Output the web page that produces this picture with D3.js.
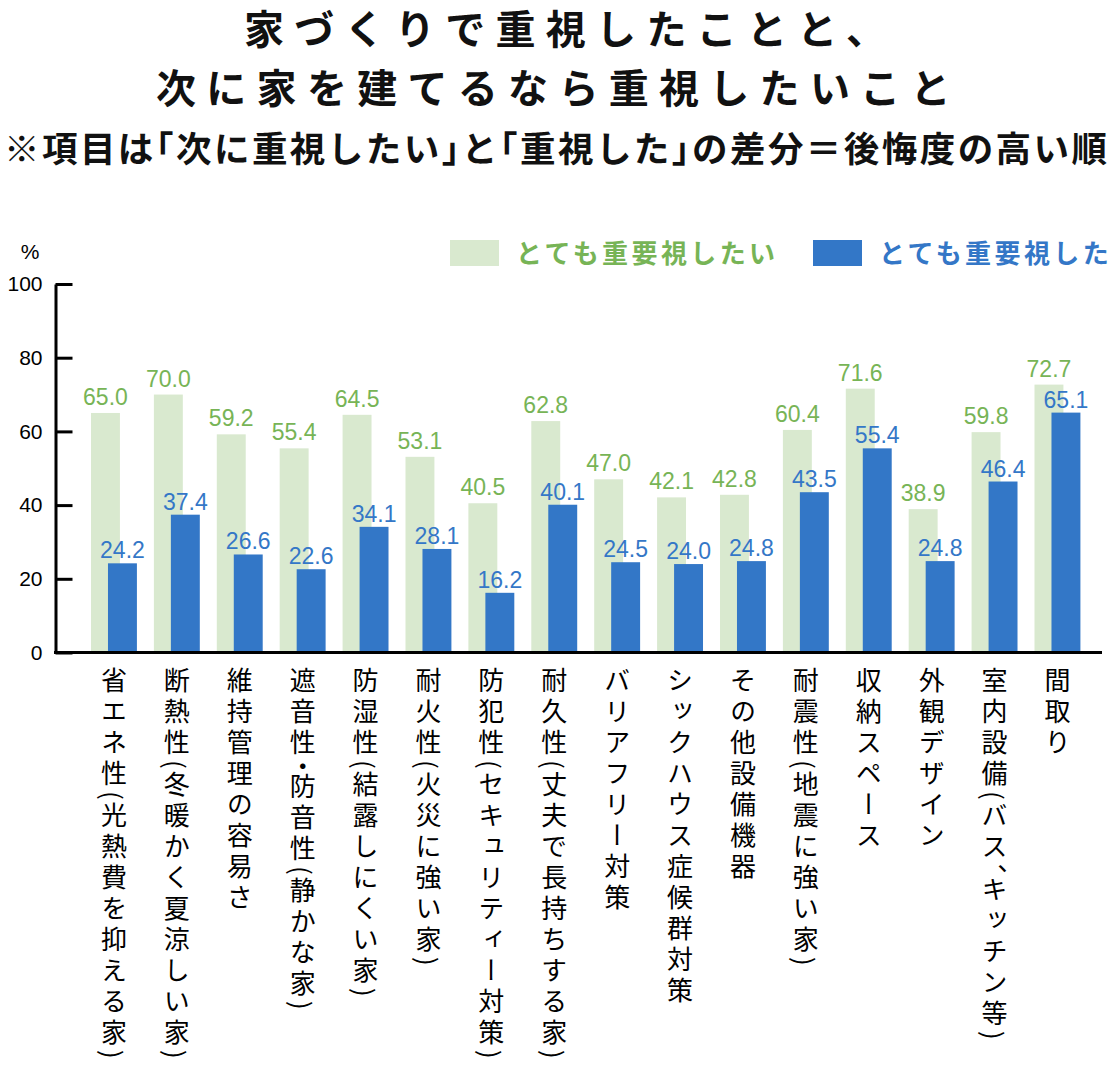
<!DOCTYPE html>
<html><head><meta charset="utf-8">
<script src="https://cdn.jsdelivr.net/npm/d3@7"></script>
<style>
html,body{margin:0;padding:0;background:#fff;}
svg{display:block;}
tspan.half{font-feature-settings:"halt" 1;}
</style></head>
<body>
<svg id="chart" width="1112" height="1066"></svg>
<script>
const categories = ["省エネ性(光熱費を抑える家)","断熱性(冬暖かく夏涼しい家)","維持管理の容易さ","遮音性・防音性(静かな家)","防湿性(結露しにくい家)","耐火性(火災に強い家)","防犯性(セキュリティー対策)","耐久性(丈夫で長持ちする家)","バリアフリー対策","シックハウス症候群対策","その他設備機器","耐震性(地震に強い家)","収納スペース","外観デザイン","室内設備(バス、キッチン等)","間取り"];
const wantValues = [65.0,70.0,59.2,55.4,64.5,53.1,40.5,62.8,47.0,42.1,42.8,60.4,71.6,38.9,59.8,72.7];
const didValues  = [24.2,37.4,26.6,22.6,34.1,28.1,16.2,40.1,24.5,24.0,24.8,43.5,55.4,24.8,46.4,65.1];
const seriesNames = ["とても重要視したい","とても重要視した"];
const yTicks = [0,20,40,60,80,100];
const titleLines = ["家づくりで重視したことと、","次に家を建てるなら重視したいこと"];
const subtitle = "※項目は「次に重視したい」と「重視した」の差分＝後悔度の高い順";
const unitLabel = "%";

const GREEN_BAR = "#d9e9cf", BLUE_BAR = "#3377c7", GREEN_TXT = "#77b456", BLUE_TXT = "#3477c7";
const JP = "'Noto Sans CJK JP','Noto Sans',sans-serif";
const NUM = "'Liberation Sans',Arial,sans-serif";

const svg = d3.select("#chart");

// Titles
svg.append("text").attr("x",244).attr("y",44).text(titleLines[0])
  .attr("font-family",JP).attr("font-weight",700).attr("font-size",40)
  .attr("letter-spacing",10.3).attr("fill","#111");
svg.append("text").attr("x",156).attr("y",103).text(titleLines[1])
  .attr("font-family",JP).attr("font-weight",700).attr("font-size",40)
  .attr("letter-spacing",10.3).attr("fill","#111");
const sub = svg.append("text").attr("x",4).attr("y",162)
  .attr("font-family",JP).attr("font-weight",700).attr("font-size",35.5)
  .attr("textLength",1103).attr("lengthAdjust","spacing").attr("fill","#111");
sub.selectAll("tspan").data(Array.from(subtitle)).join("tspan")
  .attr("class",c=>"「」".includes(c)?"half":null).text(c=>c);

// Scales
const y = d3.scaleLinear().domain([0,100]).range([652.5,284]);
const x = d3.scaleBand().domain(categories).range([82.5,1088.9]).paddingInner(0.27).paddingOuter(0.135);
const bw = x.bandwidth();
const barW = bw*0.63, blueOff = bw*0.37;

// Legend
const leg = [{name:seriesNames[0],fill:GREEN_BAR,txt:GREEN_TXT,x:450},{name:seriesNames[1],fill:BLUE_BAR,txt:BLUE_TXT,x:813}];
leg.forEach(l=>{
  svg.append("rect").attr("x",l.x).attr("y",240).attr("width",49).attr("height",26).attr("fill",l.fill);
  svg.append("text").attr("x",l.x+66).attr("y",263).text(l.name)
    .attr("font-family",JP).attr("font-weight",700).attr("font-size",26)
    .attr("letter-spacing",3.4).attr("fill",l.txt);
});

// Bars
const g = svg.append("g");
g.selectAll("rect.want").data(categories).join("rect").attr("class","want")
  .attr("x",d=>x(d)).attr("width",barW)
  .attr("y",(d,i)=>y(wantValues[i])).attr("height",(d,i)=>y(0)-y(wantValues[i]))
  .attr("fill",GREEN_BAR);
g.selectAll("rect.did").data(categories).join("rect").attr("class","did")
  .attr("x",d=>x(d)+blueOff).attr("width",barW)
  .attr("y",(d,i)=>y(didValues[i])).attr("height",(d,i)=>y(0)-y(didValues[i]))
  .attr("fill",BLUE_BAR);

// Value labels
g.selectAll("text.wantv").data(categories).join("text").attr("class","wantv")
  .attr("x",d=>x(d)+barW/2).attr("y",(d,i)=>y(wantValues[i])-8)
  .attr("text-anchor","middle").attr("font-family",NUM).attr("font-size",23)
  .attr("fill",GREEN_TXT).text((d,i)=>wantValues[i].toFixed(1));
g.selectAll("text.didv").data(categories).join("text").attr("class","didv")
  .attr("x",d=>x(d)+blueOff+barW/2).attr("y",(d,i)=>y(didValues[i])-5)
  .attr("text-anchor","middle").attr("font-family",NUM).attr("font-size",23)
  .attr("fill",BLUE_TXT).text((d,i)=>didValues[i].toFixed(1));

// Y axis
const yAxis = d3.axisLeft(y).tickValues(yTicks).tickSizeInner(-17).tickSizeOuter(0).tickPadding(13).tickFormat(d3.format("d"));
const ya = svg.append("g").attr("transform","translate(55.5,0)").call(yAxis);
ya.select(".domain").attr("stroke","#000").attr("stroke-width",3);
ya.selectAll(".tick line").attr("stroke","#000").attr("stroke-width",3);
ya.selectAll(".tick text").attr("font-family",NUM).attr("font-size",21).attr("fill","#000");

svg.append("text").attr("x",30).attr("y",259).attr("text-anchor","middle")
  .attr("font-family",NUM).attr("font-size",21).attr("fill","#000").text(unitLabel);

// X axis
const xa = svg.append("g").attr("transform",`translate(0,${y(0)})`)
  .call(d3.axisBottom(x).tickSize(0).tickFormat(""));
xa.select(".domain").attr("d",`M54,0H1102`).attr("stroke","#000").attr("stroke-width",3);

// Category labels (vertical, per-character placement)
const LAB_TOP = 667, LAB_MAX = 1062, PITCH = 31;
const adv = c => "()".includes(c) ? 11 : c==="、" ? 12 : c==="・" ? 13 : PITCH;
function charPositions(s){
  const chars = Array.from(s);
  let advs = chars.map(adv);
  const total = d3.sum(advs);
  if (total > LAB_MAX - LAB_TOP) {
    const k = chars.indexOf("(");
    const fixed = d3.sum(advs.slice(0, k+1)) + d3.sum(advs.slice(k+1).filter(a=>a!==PITCH));
    const nFull = advs.slice(k+1).filter(a=>a===PITCH).length;
    const p2 = (LAB_MAX - LAB_TOP - fixed)/nFull;
    advs = advs.map((a,i)=> i>k && a===PITCH ? p2 : a);
  }
  const pos = [];
  let cur = LAB_TOP;
  chars.forEach((c,i)=>{ pos.push(c==="・" ? cur-7 : cur); cur += advs[i]; });
  return pos;
}
svg.selectAll("text.cat").data(categories).join("text").attr("class","cat")
  .attr("x",d=>x(d)+bw/2).attr("y",d=>charPositions(d).map(v=>v.toFixed(1)).join(" "))
  .style("writing-mode","vertical-rl")
  .attr("font-family",JP).attr("font-size",26)
  .attr("fill","#000").text(d=>d);
</script>
</body></html>
